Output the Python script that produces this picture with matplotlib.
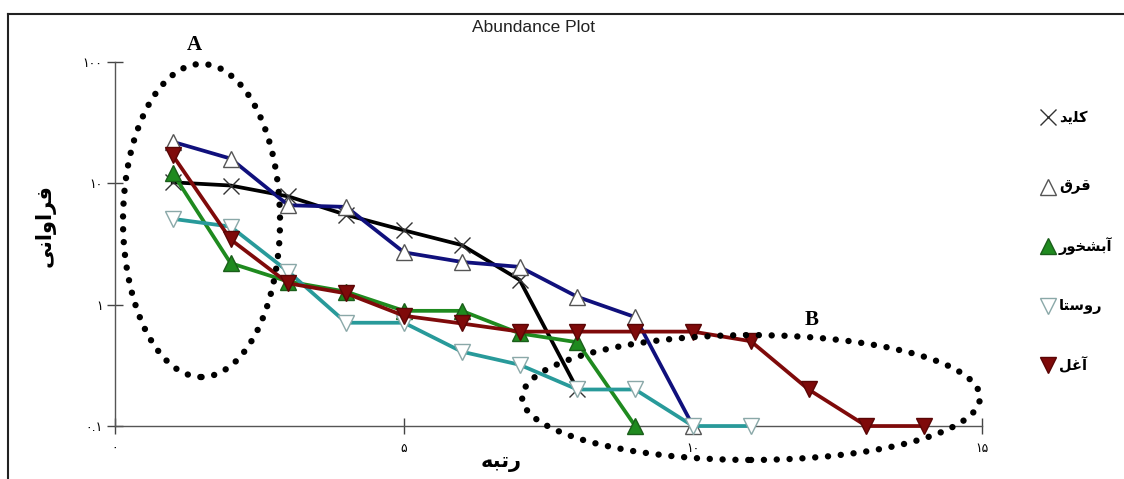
import matplotlib
matplotlib.use("Agg")
import matplotlib.pyplot as plt
from matplotlib.lines import Line2D
from matplotlib.patches import Ellipse


# ==============================
# DATA
# ==============================
# Persian words are written as shaped presentation forms in visual order,
# because matplotlib has no Arabic shaping / bidi of its own.
site_names = [
    "\uFEAA\uFBFE\uFEE0\uFB90",              # کلید
    "\uFED5\uFEAE\uFED7",                    # قرق
    "\uFEAD\uFEEE\uFEA8\uFEB8\uFE91\uFE81",  # آبشخور
    "\uFE8E\uFE98\uFEB3\uFEED\uFEAD",        # روستا
    "\uFEDE\uFECF\uFE81",                    # آغل
]

klid = [10.2, 9.6, 7.8, 5.5, 4.1, 3.1, 1.6, 0.2]
gharagh = [22, 16, 6.6, 6.4, 2.7, 2.25, 2.05, 1.16, 0.79, 0.1]
abshkhor = [12.1, 2.2, 1.55, 1.28, 0.89, 0.89, 0.58, 0.49, 0.1]
roosta = [5.1, 4.4, 1.87, 0.71, 0.71, 0.41, 0.32, 0.2, 0.2, 0.1, 0.1]
aghol = [17, 3.45, 1.5, 1.24, 0.81, 0.70, 0.6, 0.6, 0.6, 0.6, 0.5, 0.2, 0.1, 0.1]

series = [klid, gharagh, abshkhor, roosta, aghol]

x_ticks = [0, 5, 10, 15]
x_tick_labels = ["\u06F0", "\u06F5", "\u06F1\u06F0", "\u06F1\u06F5"]
y_ticks = [0.1, 1, 10, 100]
y_tick_labels = ["\u06F0.\u06F1", "\u06F1", "\u06F1\u06F0", "\u06F1\u06F0\u06F0"]

x_label = "\uFEEA\uFE92\uFE97\uFEAD"                          # رتبه
y_label = "\uFBFD\uFEE7\uFE8D\uFEED\uFE8D\uFEAE\uFED3"        # فراوانی
title = "Abundance Plot"

# ==============================
# STYLES
# ==============================
line_colors = ["#000000", "#10107c", "#1f8a1f", "#289a9a", "#7f0a0a"]
markers = ["x", "^", "^", "v", "v"]
marker_faces = ["none", "white", "#1f8a1f", "white", "#7f0a0a"]
marker_edges = ["#333333", "#555555", "#1a5e1a", "#8aa8a8", "#5a0505"]
marker_sizes = [12, 11, 11, 11, 11]

plt.rcParams["font.family"] = ["DejaVu Sans"]


def main():
    fig = plt.figure(figsize=(11.24, 4.79), dpi=100)
    ax = fig.add_axes([0.1023, 0.1106, 0.7714, 0.7599])

    for vals, col, mk, fc, ec, ms in zip(series, line_colors, markers,
                                          marker_faces, marker_edges, marker_sizes):
        ranks = list(range(1, len(vals) + 1))
        ax.plot(ranks, vals, color=col, lw=2.7, marker=mk, ms=ms,
                mfc=fc, mec=ec, mew=1.0, clip_on=False, zorder=3)

    ax.set_yscale("log")
    ax.set_xlim(0, 15)
    ax.set_ylim(0.1, 100)

    ax.set_xticks(x_ticks)
    ax.set_xticklabels(x_tick_labels, fontsize=9)
    ax.set_yticks(y_ticks)
    ax.set_yticklabels(y_tick_labels, fontsize=9)
    ax.minorticks_off()
    ax.tick_params(axis="x", direction="inout", length=11, width=1,
                   color="#444444", pad=6)
    ax.tick_params(axis="y", direction="inout", length=12, width=1,
                   color="#444444", pad=3)

    for side in ["top", "right"]:
        ax.spines[side].set_visible(False)
    for side in ["left", "bottom"]:
        ax.spines[side].set_color("#555555")
        ax.spines[side].set_linewidth(1.0)

    # dotted ellipses A and B
    for cx, cy, w, h in [(0.0998, 0.5646, 0.1811, 0.860),
                         (0.7336, 0.0783, 0.528, 0.343)]:
        e = Ellipse((cx, cy), w, h, transform=ax.transAxes, fill=False,
                    ec="black", lw=4.6, ls=(0, (0.01, 2.0)), clip_on=False,
                    zorder=5)
        e.set_capstyle("round")
        ax.add_patch(e)

    ax.text(0.092, 1.047, "A", transform=ax.transAxes, ha="center", va="center",
            fontsize=15, fontweight="bold", family="Liberation Serif")
    ax.text(0.804, 0.291, "B", transform=ax.transAxes, ha="center", va="center",
            fontsize=15, fontweight="bold", family="Liberation Serif")

    # axis labels and title
    fig.text(0.4457, 0.035, x_label, ha="center", va="center",
             fontsize=15, fontweight="bold")
    fig.text(0.040, 0.53, y_label, ha="center", va="center", rotation=90,
             fontsize=15, fontweight="bold")
    fig.text(0.475, 0.943, title, ha="center", va="center",
             fontsize=12.5, family="Liberation Sans", color="#222222")

    # legend on the right: marker, then name
    legend_y = [117, 187, 246, 306, 365]
    for name, ypx, mk, fc, ec, ms in zip(site_names, legend_y, markers,
                                         marker_faces, marker_edges, marker_sizes):
        yf = 1 - ypx / 479
        fig.add_artist(Line2D([1048 / 1124], [yf], transform=fig.transFigure,
                              ls="none", marker=mk, ms=ms, mfc=fc, mec=ec,
                              mew=1.0))
        fig.text(1059 / 1124, yf, name, ha="left", va="center", fontsize=10.5,
                 fontweight="bold")

    # outer frame (top and left edges visible)
    fig.add_artist(Line2D([8 / 1124, 1.0], [1 - 14 / 479, 1 - 14 / 479],
                          transform=fig.transFigure, color="#222222", lw=1.5))
    fig.add_artist(Line2D([8 / 1124, 8 / 1124], [0.0, 1 - 14 / 479],
                          transform=fig.transFigure, color="#222222", lw=1.5))

    fig.savefig("out.png", dpi=100)


if __name__ == "__main__":
    main()
